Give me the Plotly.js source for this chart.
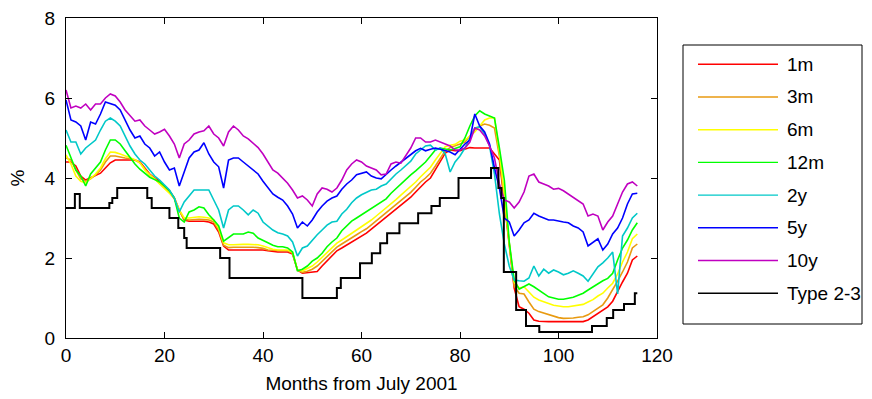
<!DOCTYPE html>
<html>
<head>
<meta charset="utf-8">
<script src="https://cdn.plot.ly/plotly-3.0.1.min.js"></script>
<style>html,body{margin:0;padding:0;background:#fff;}#chart{width:872px;height:399px;}</style>
</head>
<body>
<div id="chart"></div>
<script>
// ---- data ----
var months = [];
for (var i = 0; i <= 116; i++) months.push(i);

var names = ['1m', '3m', '6m', '12m', '2y', '5y', '10y', 'Type 2-3'];

var rate1m = [
4.40,4.40,4.30,4.05,3.95,4.00,4.05,4.12,4.25,4.38,
4.45,4.45,4.45,4.45,4.45,4.40,4.25,4.10,4.00,3.92,
3.80,3.68,3.50,3.20,2.95,2.92,2.92,2.92,2.92,2.90,
2.85,2.65,2.30,2.20,2.20,2.20,2.20,2.20,2.20,2.20,
2.20,2.18,2.16,2.15,2.15,2.15,2.10,1.70,1.62,1.63,
1.65,1.66,1.80,1.92,2.05,2.18,2.25,2.32,2.40,2.47,
2.55,2.62,2.72,2.82,2.92,3.00,3.10,3.20,3.32,3.42,
3.52,3.65,3.78,3.90,4.00,4.20,4.42,4.62,4.70,4.68,
4.68,4.72,4.76,4.75,4.75,4.76,4.75,4.60,4.45,3.40,
2.30,1.25,0.78,0.72,0.62,0.45,0.42,0.41,0.41,0.41,
0.41,0.41,0.41,0.41,0.41,0.41,0.45,0.53,0.60,0.68,
0.78,0.92,1.18,1.40,1.62,1.95,2.05];

var rate3m = [
4.50,4.45,4.20,3.98,3.92,3.98,4.08,4.20,4.40,4.55,
4.55,4.52,4.50,4.48,4.45,4.38,4.22,4.08,3.98,3.88,
3.76,3.64,3.48,3.18,2.97,2.95,2.96,2.97,2.96,2.95,
2.90,2.70,2.32,2.26,2.27,2.27,2.28,2.27,2.27,2.26,
2.24,2.20,2.19,2.18,2.18,2.18,2.12,1.70,1.64,1.67,
1.72,1.80,1.92,2.03,2.15,2.27,2.35,2.42,2.50,2.58,
2.66,2.73,2.83,2.93,3.03,3.12,3.22,3.32,3.44,3.54,
3.64,3.77,3.90,4.00,4.12,4.30,4.50,4.68,4.76,4.80,
4.85,4.90,5.05,5.20,5.30,5.35,5.32,5.25,4.55,3.50,
2.30,1.30,1.12,1.10,0.90,0.72,0.66,0.62,0.58,0.55,
0.51,0.49,0.49,0.50,0.52,0.53,0.58,0.66,0.75,0.83,
1.00,1.20,1.42,1.65,1.90,2.25,2.35];

var rate6m = [
4.58,4.35,4.05,3.92,3.88,3.98,4.10,4.25,4.48,4.65,
4.64,4.60,4.55,4.52,4.46,4.38,4.20,4.08,3.98,3.85,
3.74,3.63,3.50,3.20,3.00,3.00,3.02,3.03,3.02,3.00,
2.95,2.75,2.38,2.33,2.33,2.34,2.34,2.34,2.33,2.33,
2.30,2.25,2.22,2.20,2.20,2.20,2.15,1.70,1.68,1.75,
1.80,1.90,2.02,2.14,2.26,2.37,2.45,2.53,2.61,2.69,
2.77,2.85,2.95,3.05,3.15,3.24,3.35,3.46,3.57,3.68,
3.78,3.90,4.03,4.15,4.27,4.45,4.62,4.78,4.82,4.84,
4.92,4.95,5.05,5.15,5.30,5.45,5.50,5.50,4.65,3.60,
2.35,1.40,1.25,1.28,1.15,1.02,0.95,0.90,0.85,0.82,
0.80,0.78,0.78,0.80,0.82,0.84,0.90,0.96,1.05,1.12,
1.25,1.37,1.60,1.90,2.15,2.48,2.60];

var rate12m = [
4.82,4.50,4.20,4.05,3.80,4.10,4.25,4.40,4.70,4.95,
4.95,4.85,4.68,4.50,4.35,4.22,4.12,4.02,3.96,3.90,
3.80,3.68,3.50,3.00,2.90,3.15,3.20,3.28,3.25,3.08,
2.95,2.80,2.42,2.50,2.60,2.60,2.60,2.65,2.62,2.50,
2.45,2.38,2.32,2.28,2.28,2.25,2.15,1.68,1.72,1.80,
1.92,2.00,2.12,2.28,2.40,2.50,2.68,2.80,2.92,3.00,
3.08,3.15,3.25,3.33,3.40,3.48,3.62,3.74,3.86,3.96,
4.08,4.18,4.28,4.40,4.55,4.70,4.75,4.72,4.70,4.74,
4.78,5.00,5.30,5.55,5.68,5.60,5.55,5.50,4.75,3.95,
2.40,1.45,1.22,1.28,1.35,1.28,1.20,1.10,1.03,1.00,
0.97,0.97,0.99,1.02,1.07,1.12,1.20,1.28,1.37,1.43,
1.49,1.62,1.95,2.25,2.45,2.70,2.88];

var rate2y = [
5.20,4.90,4.90,4.60,4.75,4.85,4.95,5.20,5.42,5.50,
5.42,5.30,5.05,4.80,4.60,4.45,4.35,4.20,4.05,3.95,
3.82,3.70,3.50,3.15,3.40,3.55,3.70,3.70,3.70,3.70,
3.45,3.20,2.75,3.20,3.30,3.30,3.20,3.08,3.20,3.12,
2.90,2.80,2.70,2.63,2.60,2.55,2.40,2.05,2.25,2.30,
2.45,2.58,2.70,2.82,2.90,2.92,3.10,3.22,3.38,3.50,
3.58,3.65,3.70,3.72,3.80,3.85,3.98,4.10,4.20,4.30,
4.42,4.60,4.70,4.80,4.82,4.70,4.75,4.60,4.15,4.40,
4.55,4.75,5.00,5.25,5.28,5.10,4.80,4.10,3.10,2.35,
1.80,1.45,1.43,1.42,1.50,1.80,1.55,1.72,1.62,1.70,
1.65,1.58,1.62,1.68,1.62,1.55,1.42,1.60,1.78,1.88,
2.00,2.15,1.10,2.55,2.75,3.00,3.12];

var rate5y = [
5.95,5.45,5.40,5.30,4.95,5.40,5.35,5.60,5.90,5.85,
5.82,5.70,5.45,5.20,5.00,5.05,4.85,4.75,4.55,4.65,
4.40,4.20,4.25,3.80,4.15,4.50,4.65,4.70,4.88,4.60,
4.40,4.28,3.75,4.45,4.50,4.50,4.40,4.30,4.18,4.10,
3.92,3.75,3.60,3.52,3.45,3.30,3.10,2.75,2.90,2.80,
2.95,3.15,3.30,3.42,3.50,3.55,3.72,3.85,3.95,4.08,
4.12,4.15,4.05,4.00,3.98,4.10,4.20,4.30,4.40,4.50,
4.60,4.68,4.74,4.68,4.72,4.75,4.72,4.68,4.65,4.58,
4.72,4.85,4.95,5.60,5.30,5.15,4.85,4.25,3.75,3.00,
2.90,2.55,2.70,2.88,2.95,3.12,3.05,3.00,2.95,2.95,
2.92,2.90,2.88,2.80,2.75,2.65,2.30,2.40,2.48,2.20,
2.35,2.60,2.75,3.00,3.35,3.60,3.62];

var rate10y = [
6.20,5.75,5.80,5.75,5.85,5.70,5.85,5.85,6.00,6.10,
6.05,5.90,5.70,5.55,5.42,5.45,5.30,5.20,5.10,5.15,
5.22,5.05,4.85,4.50,4.85,4.95,5.10,5.15,5.18,5.30,
5.10,5.00,4.80,5.15,5.30,5.20,5.05,4.98,4.88,4.76,
4.60,4.40,4.20,4.12,4.00,3.87,3.70,3.50,3.55,3.45,
3.30,3.60,3.75,3.72,3.65,3.75,3.95,4.20,4.35,4.45,
4.40,4.30,4.25,4.20,4.08,4.10,4.35,4.40,4.37,4.55,
4.75,5.00,5.00,4.90,4.90,4.95,4.90,4.85,4.80,4.70,
4.70,4.75,4.90,5.25,5.20,5.05,4.80,4.50,3.85,3.45,
3.40,3.25,3.40,3.65,4.05,4.10,3.90,3.85,3.80,3.72,
3.74,3.68,3.60,3.52,3.45,3.35,3.05,3.10,3.05,2.70,
2.90,3.05,3.35,3.65,3.85,3.90,3.80];

// policy rate steps: month where each level starts, and the level
var policyMonths = [0,1.8,2.8,8.8,9.4,10.4,16.5,17.4,21.0,22.8,24.0,24.5,31.3,33.2,48.0,55.0,55.8,59.7,62.1,63.8,65.2,67.7,71.5,74.2,75.9,79.7,86.3,87.8,88.4,88.9,91.4,93.4,96.1,106.8,109.8,111.1,113.3,115.5,116];
var policyRate   = [3.25,3.6,3.25,3.375,3.5,3.75,3.5,3.25,3.0,2.75,2.5,2.25,2.0,1.5,1.0,1.25,1.5,1.87,2.12,2.37,2.62,2.87,3.12,3.3,3.5,4.0,4.25,3.75,3.5,1.65,0.7,0.3,0.15,0.3,0.5,0.7,0.85,1.12,1.12];

var xTicks = [0, 20, 40, 60, 80, 100, 120];
var yTicks = [0, 2, 4, 6, 8];

// ---- styles ----
var colors = ['#ff0000', '#e89a10', '#ffff00', '#00ff00', '#00c8c8', '#0000ff', '#c000c0', '#000000'];
var FONT = 'Liberation Sans, Arial, sans-serif';
var FS = 19;

var seriesY = [rate1m, rate3m, rate6m, rate12m, rate2y, rate5y, rate10y];
var traces = [];
for (var k = 0; k < seriesY.length; k++) {
  traces.push({x: months, y: seriesY[k], type: 'scatter', mode: 'lines', name: names[k],
    line: {color: colors[k], width: 1.6}, showlegend: false, hoverinfo: 'skip'});
}
traces.push({x: policyMonths, y: policyRate, type: 'scatter', mode: 'lines', name: names[7],
  line: {color: colors[7], width: 2, shape: 'hv'}, showlegend: false, hoverinfo: 'skip'});

// plot area in pixels
var L = 66, R = 657, T = 18, B = 338;
function px(xp) { return (xp - L) / (R - L); }
function py(yp) { return (B - yp) / (B - T); }

var shapes = [{type: 'rect', xref: 'paper', yref: 'paper', x0: px(683), x1: px(862), y0: py(324), y1: py(45),
  line: {color: '#000', width: 1}, fillcolor: 'rgba(0,0,0,0)'}];
var annotations = [];
for (var j = 0; j < names.length; j++) {
  var yy = 64.3 + j * 32.7;
  shapes.push({type: 'line', xref: 'paper', yref: 'paper', x0: px(698), x1: px(778), y0: py(yy), y1: py(yy),
    line: {color: colors[j], width: 1.4}});
  annotations.push({xref: 'paper', yref: 'paper', x: px(785), y: py(yy), xanchor: 'left', yanchor: 'middle',
    text: names[j], showarrow: false, font: {family: FONT, size: FS, color: '#000'}});
}

var layout = {
  width: 872, height: 399,
  margin: {l: L, r: 872 - R, t: T, b: 399 - B},
  paper_bgcolor: '#fff', plot_bgcolor: '#fff',
  font: {family: FONT, size: FS, color: '#000'},
  showlegend: false,
  xaxis: {range: [0, 120], tickvals: xTicks, ticktext: xTicks.map(String), ticks: 'inside', ticklen: 6,
    tickcolor: '#000', showline: true, linecolor: '#000', linewidth: 1.2, mirror: 'ticks',
    showgrid: false, zeroline: false, tickfont: {family: FONT, size: FS},
    title: {text: 'Months from July 2001', font: {family: FONT, size: FS}, standoff: 11}},
  yaxis: {range: [0, 8], tickvals: yTicks, ticktext: yTicks.map(String), ticks: 'inside', ticklen: 6,
    tickcolor: '#000', showline: true, linecolor: '#000', linewidth: 1.2, mirror: 'ticks',
    showgrid: false, zeroline: false, tickfont: {family: FONT, size: FS}, ticklabelstandoff: 6,
    title: {text: '%', font: {family: FONT, size: FS}, standoff: 14}},
  shapes: shapes,
  annotations: annotations
};

Plotly.newPlot('chart', traces, layout, {staticPlot: true, displayModeBar: false});
</script>
</body>
</html>
